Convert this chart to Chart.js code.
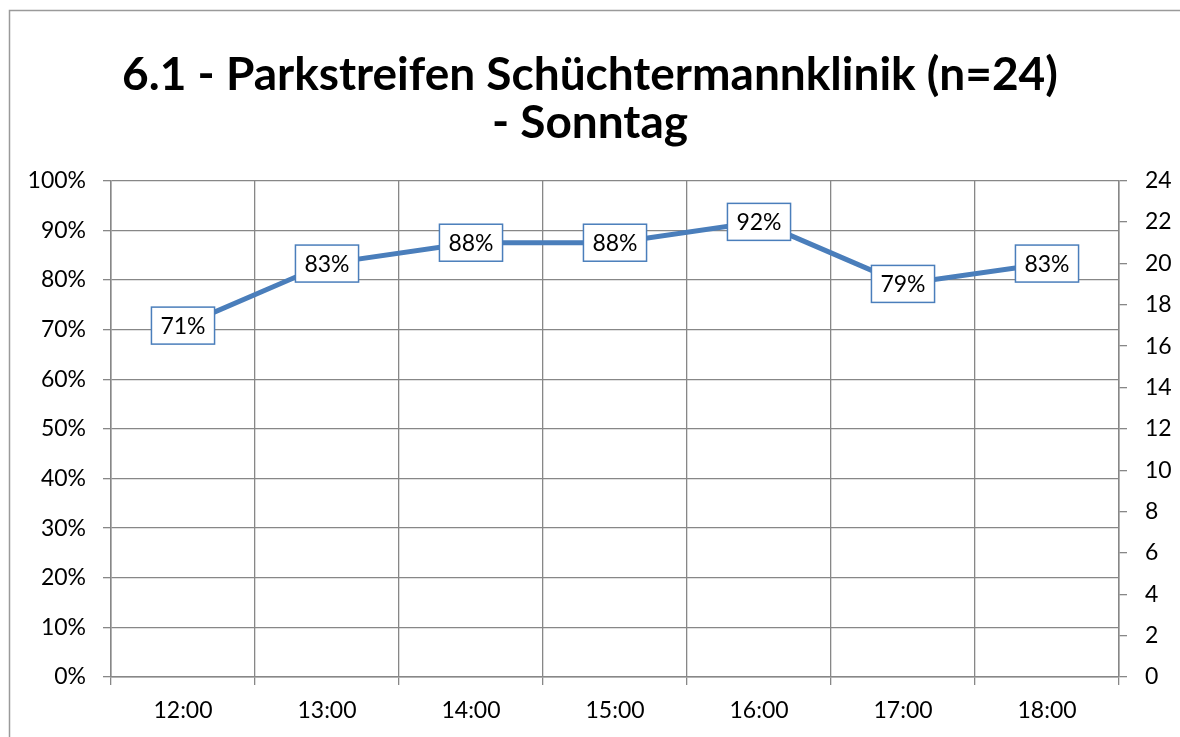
<!DOCTYPE html>
<html lang="de">
<head>
    <meta charset="UTF-8">
    <script src="https://cdn.jsdelivr.net/npm/chart.js"></script>
    <title>Parkstreifen Schüchtermannklinik - Sonntag</title>
    <style>
        body { margin: 0; background: #fff; }
        .chart-box { width: 1180px; height: 737px; }
    </style>
</head>
<body>
    <div class="chart-box">
        <canvas id="parkChart"></canvas>
    </div>
    <script>
        // Uhrzeiten und Auslastung in Prozent
        var zeiten = ['12:00', '13:00', '14:00', '15:00', '16:00', '17:00', '18:00'];
        var auslastung = [70.8, 83.3, 87.5, 87.5, 91.7, 79.2, 83.3];
        var titelZeilen = ['6.1 - Parkstreifen Schüchtermannklinik (n=24)', '- Sonntag'];

        var schrift = 'Lato, "Open Sans", sans-serif';
        var gitterFarbe = '#878787';
        var linienFarbe = '#4a7ebb';

        // Rahmen ums Diagramm
        const rahmen = {
            id: 'rahmen',
            beforeDraw(chart) {
                const ctx = chart.ctx;
                ctx.save();
                ctx.fillStyle = '#fff';
                ctx.fillRect(0, 0, chart.width, chart.height);
                ctx.strokeStyle = '#9a9a9a';
                ctx.lineWidth = 1.5;
                ctx.strokeRect(9.5, 10.5, chart.width + 20, chart.height + 20);
                ctx.restore();
            }
        };

        // Datenbeschriftungen in Kästchen
        const beschriftung = {
            id: 'beschriftung',
            afterDatasetsDraw(chart) {
                const ctx = chart.ctx;
                const meta = chart.getDatasetMeta(0);
                ctx.save();
                ctx.font = '23px ' + schrift;
                ctx.textAlign = 'center';
                ctx.textBaseline = 'middle';
                meta.data.forEach(function(pt, i) {
                    var txt = Math.round(auslastung[i]) + '%';
                    var w = ctx.measureText(txt).width + 18;
                    var h = 37;
                    ctx.fillStyle = '#fff';
                    ctx.fillRect(pt.x - w / 2, pt.y - h / 2, w, h);
                    ctx.strokeStyle = linienFarbe;
                    ctx.lineWidth = 1.5;
                    ctx.strokeRect(pt.x - w / 2, pt.y - h / 2, w, h);
                    ctx.fillStyle = '#000';
                    ctx.fillText(txt, pt.x, pt.y + 1);
                });
                ctx.restore();
            }
        };

        const config = {
            type: 'line',
            data: {
                labels: zeiten,
                datasets: [{
                    label: 'Auslastung',
                    data: auslastung,
                    borderColor: linienFarbe,
                    borderWidth: 5,
                    pointRadius: 0,
                    tension: 0,
                    yAxisID: 'y'
                }]
            },
            options: {
                responsive: true,
                maintainAspectRatio: false,
                animation: false,
                layout: { padding: 0 },
                plugins: {
                    legend: { display: false },
                    tooltip: { enabled: false },
                    title: {
                        display: true,
                        text: titelZeilen,
                        color: '#000',
                        font: { family: schrift, size: 46, weight: 'bold', lineHeight: 1.04 },
                        padding: { top: 51, bottom: 34 }
                    }
                },
                scales: {
                    x: {
                        offset: true,
                        grid: { offset: true, color: gitterFarbe, tickColor: gitterFarbe, tickLength: 8, lineWidth: 1.3 },
                        border: { color: gitterFarbe, width: 1.5 },
                        ticks: { color: '#000', font: { family: schrift, size: 23 }, padding: 12 },
                        afterFit(scale) { scale.height = 60; }
                    },
                    y: {
                        position: 'left',
                        min: 0,
                        max: 100,
                        grid: { color: gitterFarbe, tickColor: gitterFarbe, tickLength: 8, lineWidth: 1.3 },
                        border: { color: gitterFarbe, width: 1.5 },
                        ticks: {
                            stepSize: 10,
                            color: '#000',
                            font: { family: schrift, size: 23 },
                            padding: 17,
                            callback: function(v) { return v + '%'; }
                        },
                        afterFit(scale) { scale.width = 111; }
                    },
                    y2: {
                        position: 'right',
                        min: 0,
                        max: 24,
                        grid: { drawOnChartArea: false, tickColor: gitterFarbe, tickLength: 8, lineWidth: 1.3 },
                        border: { color: gitterFarbe, width: 1.5 },
                        ticks: { stepSize: 2, color: '#000', font: { family: schrift, size: 23 }, padding: 18 },
                        afterFit(scale) { scale.width = 61; }
                    }
                }
            },
            plugins: [rahmen, beschriftung]
        };

        const parkChart = new Chart(document.getElementById('parkChart'), config);
    </script>
</body>
</html>
